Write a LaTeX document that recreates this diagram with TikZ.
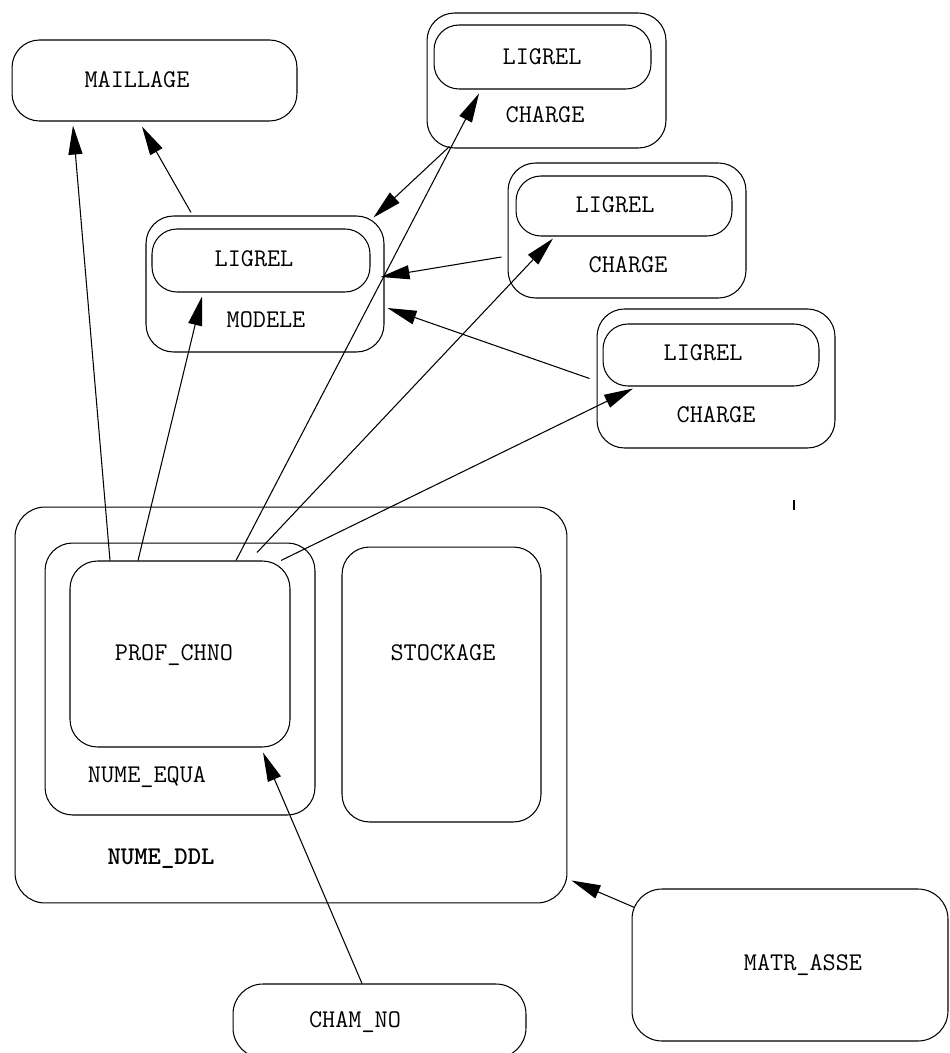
\documentclass[tikz,border=0pt]{standalone}
\usepackage{fontspec}
\usetikzlibrary{positioning, arrows.meta, calc}
\tikzset{
>={Triangle[length=0.58cm, width=0.28cm]}, % long black arrow heads
box/.style={draw=black, line width=0.6pt, rounded corners=0.55cm, inner sep=0pt}, % every object
ligrel/.style={box, rounded corners=0.5cm}, % the LIGREL inside MODELE and CHARGE
lbl/.style={font=\ttfamily\fontsize{14.5}{17}\selectfont, inner sep=0pt, text height=0.3cm, text depth=0pt}, % object names
link/.style={->, line width=0.6pt}, % references between objects
}

\begin{document}
\begin{tikzpicture}[x=0.02cm, y=-0.02cm]
      \useasboundingbox (0,0) rectangle (949,1053);
      \clip (0,0) rectangle (949,1053);

      % top: maillage, modele and the charges
      \node[box, minimum width=5.7cm, minimum height=1.62cm] (maillage) at (154.5,80.5) {};
      \node[lbl] (maillagetxt) at (137,80) {MAILLAGE};

      \node[box, minimum width=4.76cm, minimum height=2.72cm] (modele) at (265,284) {};
      \node[ligrel, minimum width=4.36cm, minimum height=1.26cm] (modlig) at (261,260.5) {};
      \node[lbl] (modligtxt) at (254,259) {LIGREL};
      \node[lbl] (modeletxt) at (266,320) {MODELE};

      \node[box, minimum width=4.78cm, minimum height=2.7cm] (ch1) at (546.5,80.5) {};
      \node[ligrel, minimum width=4.34cm, minimum height=1.28cm] (ch1lig) at (542.5,57) {};
      \node[lbl] (ch1ligtxt) at (542,57) {LIGREL};
      \node[lbl] (ch1txt) at (545,115) {CHARGE};

      \node[box, minimum width=4.76cm, minimum height=2.7cm] (ch2) at (627,230.5) {};
      \node[ligrel, minimum width=4.32cm, minimum height=1.2cm] (ch2lig) at (624,206) {};
      \node[lbl] (ch2ligtxt) at (615,205) {LIGREL};
      \node[lbl] (ch2txt) at (628,265) {CHARGE};

      \node[box, minimum width=4.76cm, minimum height=2.78cm] (ch3) at (716,378.5) {};
      \node[ligrel, minimum width=4.32cm, minimum height=1.24cm] (ch3lig) at (711,355) {};
      \node[lbl] (ch3ligtxt) at (703,353) {LIGREL};
      \node[lbl] (ch3txt) at (716,415) {CHARGE};

      % bottom: nume_ddl and its parts
      \node[box, rounded corners=0.6cm, minimum width=11.04cm, minimum height=7.92cm] (ddl) at (291,705) {};
      \node[lbl, font=\ttfamily\bfseries\fontsize{14.5}{17}\selectfont] (ddltxt) at (161,857) {NUME\_DDL};
      \node[box, minimum width=5.4cm, minimum height=5.44cm] (equa) at (180,679) {};
      \node[lbl] (equatxt) at (147,775) {NUME\_EQUA};
      \node[box, minimum width=4.4cm, minimum height=3.72cm] (prof) at (180,654) {};
      \node[lbl] (proftxt) at (174,653) {PROF\_CHNO};
      \node[box, minimum width=3.98cm, minimum height=5.5cm] (stock) at (441.5,684.5) {};
      \node[lbl] (stocktxt) at (443,653) {STOCKAGE};

      \node[box, rounded corners=0.6cm, minimum width=6.32cm, minimum height=3.04cm] (matr) at (790,965) {};
      \node[lbl] (matrtxt) at (803,963) {MATR\_ASSE};
      \node[box, rounded corners=0.6cm, minimum width=5.86cm, minimum height=1.48cm] (cham) at (379.5,1021) {};
      \node[lbl] (chamtxt) at (355,1020) {CHAM\_NO};

      \draw[line width=1.2pt] (794,500) -- (794,510);

      \draw[link] ($(prof.north)+(-70,0)$) -- ($(maillage.south)+(-81.5,4)$);
      \draw[link] ($(prof.north)+(-42,0)$) -- ($(modlig.south)+(-59,4)$);
      \draw[link] ($(prof.north)+(56,0)$) -- ($(ch1lig.south)+(-63.5,4)$);
      \draw[link] ($(prof.north)+(77,-8)$) -- ($(ch2lig.south)+(-71,2)$);
      \draw[link] ($(prof.north)+(101,0)$) -- ($(ch3lig.south)+(-78,2)$);
      \draw[link] ($(modele.north)+(-74,-3)$) -- ($(maillage.south)+(-12.5,5)$);
      \draw[link] ($(ch1.south west)+(23,-2)$) -- ($(modele.north east)+(-11,2)$);
      \draw[link] ($(ch2.west)+(-6,26.5)$) -- ($(modele.east)+(-4,-7)$);
      \draw[link] ($(ch3.west)+(-7,0)$) -- ($(modele.east)+(3,24)$);
      \draw[link] ($(matr.north west)+(3,19)$) -- ($(ddl.south east)+(4,-23)$);
      \draw[link] ($(cham.north)+(-17.5,0)$) -- ($(prof.south)+(83,5)$);
    \end{tikzpicture}
\end{document}
